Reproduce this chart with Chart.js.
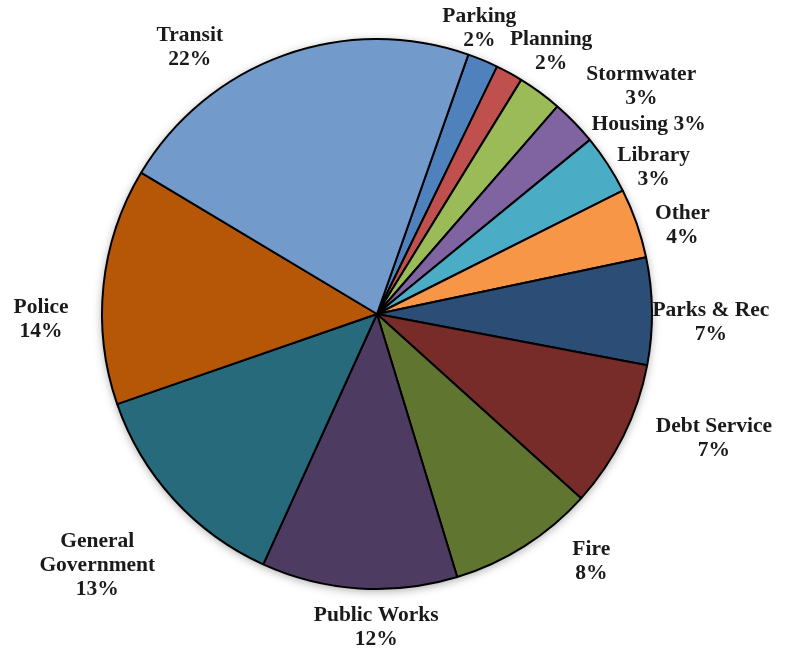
<!DOCTYPE html>
<html>
<head>
<meta charset="utf-8">
<script src="https://cdn.jsdelivr.net/npm/chart.js@4.4.1/dist/chart.umd.min.js"></script>
<style>
  html, body { margin: 0; padding: 0; background: #fff; }
  #wrap { width: 801px; height: 652px; }
</style>
</head>
<body>
<div id="wrap"><canvas id="myChart" width="801" height="652"></canvas></div>
<script>
// slice order as in the sheet (first slice starts just right of 12 o'clock)
const categories = ['Parking', 'Planning', 'Stormwater', 'Housing', 'Library', 'Other',
    'Parks & Rec', 'Debt Service', 'Fire', 'Public Works', 'General Government', 'Police', 'Transit'];
const shares = [1.8, 1.6, 2.6, 2.7, 3.5, 4.1, 6.3, 8.7, 8.6, 11.5, 12.9, 13.9, 21.8];
const pctLabels = ['2%', '2%', '3%', '3%', '3%', '4%', '7%', '7%', '8%', '12%', '13%', '14%', '22%'];
// how each label is broken into lines ('|' = new line)
const labelText = ['Parking|2%', 'Planning|2%', 'Stormwater|3%', 'Housing 3%', 'Library|3%', 'Other|4%',
    'Parks & Rec|7%', 'Debt Service|7%', 'Fire|8%', 'Public Works|12%', 'General|Government|13%', 'Police|14%', 'Transit|22%'];
const colors = ['#4f81bd', '#c0504d', '#9bbb59', '#8064a2', '#4bacc6', '#f79646',
    '#2c4d75', '#772c2a', '#5f7530', '#4d3b62', '#276a7c', '#b65708', '#729aca'];

// best-fit label placement: [angle shift from slice middle (deg), distance past the rim (px)]
const labelShift = [[-2.9, 28], [4.8, 40], [12.9, 74], [9.3, 56], [5.1, 38], [3.1, 43],
    [2.0, 59], [-6.2, 84], [-8.5, 52], [-3.6, 38], [0.4, 101], [-6.8, 61], [-15.2, 51]];

const pieShadow = {
    id: 'pieShadow',
    beforeDatasetsDraw(chart) {
        const arc = chart.getDatasetMeta(0).data[0];
        if (!arc) return;
        const ctx = chart.ctx;
        ctx.save();
        ctx.shadowColor = 'rgba(0,0,0,0.35)';
        ctx.shadowBlur = 10;
        ctx.shadowOffsetX = 0;
        ctx.shadowOffsetY = 2;
        ctx.fillStyle = '#fff';
        ctx.beginPath();
        ctx.arc(arc.x, arc.y, arc.outerRadius, 0, Math.PI * 2);
        ctx.fill();
        ctx.restore();
    }
};

const outsideLabels = {
    id: 'outsideLabels',
    afterDatasetsDraw(chart) {
        const ctx = chart.ctx;
        const arcs = chart.getDatasetMeta(0).data;
        ctx.save();
        ctx.font = 'bold 21.5px "Liberation Serif", "Times New Roman", serif';
        ctx.fillStyle = '#1a1a1a';
        ctx.textAlign = 'center';
        ctx.textBaseline = 'middle';
        const lineH = 24;
        arcs.forEach((arc, i) => {
            const mid = (arc.startAngle + arc.endAngle) / 2 + labelShift[i][0] * Math.PI / 180;
            const dist = arc.outerRadius + labelShift[i][1];
            const cx = arc.x + Math.cos(mid) * dist;
            const cy = arc.y + Math.sin(mid) * dist;
            const lines = labelText[i].split('|');
            const top = cy - (lines.length - 1) * lineH / 2;
            lines.forEach((ln, k) => ctx.fillText(ln, cx, top + k * lineH));
        });
        ctx.restore();
    }
};

const ctx = document.getElementById('myChart').getContext('2d');
new Chart(ctx, {
    type: 'pie',
    data: {
        labels: categories,
        datasets: [{
            data: shares,
            backgroundColor: colors,
            borderColor: '#000',
            borderWidth: 2,
            hoverOffset: 0
        }]
    },
    options: {
        responsive: false,
        animation: false,
        rotation: 19.4,
        layout: { padding: { left: 101, right: 148, top: 38, bottom: 62 } },
        plugins: {
            legend: { display: false },
            tooltip: { enabled: false }
        }
    },
    plugins: [pieShadow, outsideLabels]
});
</script>
</body>
</html>
